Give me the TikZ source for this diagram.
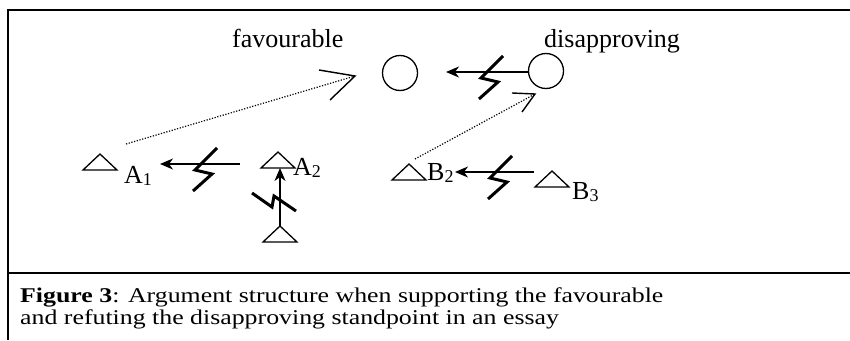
\documentclass[tikz,border=0pt]{standalone}
\usepackage{fontspec}
\setmainfont{Liberation Serif}
\newfontfamily\capfont[FakeStretch=1.23]{Liberation Serif}
\usetikzlibrary{arrows.meta,calc}
\newcommand{\trinode}[2]{%
  \coordinate (#1) at #2;
  \coordinate (#1-top) at ($(#1)+(0,-16)$);
  \draw[shapeline] ($(#1)+(-17,0)$) -- (#1-top) -- ($(#1)+(17,0)$) -- cycle;}
\begin{document}
\begin{tikzpicture}[x=1pt,y=-1pt,
  shapeline/.style={line width=1.3pt, line join=miter},
  frame/.style={line width=2pt},
  attack/.style={line width=1.3pt, -{Stealth[length=13pt,width=11pt,inset=4pt]}},
  bolt/.style={line width=3pt, line join=miter},
  support/.style={line width=1.2pt, dash pattern=on 1.2pt off 1.6pt},
  vhead/.style={line width=1.4pt},
  stand/.style={circle, draw, line width=1.3pt, minimum size=35pt, inner sep=0pt},
  lbl/.style={anchor=base west, inner sep=0pt, font=\fontsize{26}{30}\selectfont},
  captext/.style={anchor=base west, inner sep=0pt, font=\capfont\fontsize{21}{24}\selectfont}]
\useasboundingbox (0,0) rectangle (850,340);
% frame
\draw[frame] (850,10) -- (8,10) -- (8,340);
\draw[frame] (8,273) -- (850,273);
% standpoints
\node[stand] (fav) at (400,73) {};
\node[stand] (dis) at (546,71) {};
\node[lbl] (favt) at (232,47) {favourable};
\node[lbl] (dist) at (544,47) {disapproving};
% triangles
\trinode{a1}{(100,170)}
\trinode{a2}{(278,168)}
\trinode{a3}{(280,242)}
\trinode{b2}{(409,180)}
\trinode{b3}{(552,187)}
% labels
\node[lbl] (a1l) at (124,183) {A\raisebox{-2pt}{\fontsize{18}{18}\selectfont 1}};
\node[lbl] (a2l) at (293,175) {A\raisebox{-2pt}{\fontsize{18}{18}\selectfont 2}};
\node[lbl] (b2l) at (427,180) {B\raisebox{-2pt}{\fontsize{18}{18}\selectfont 2}};
\node[lbl] (b3l) at (572,199) {B\raisebox{-2pt}{\fontsize{18}{18}\selectfont 3}};
% free ends
\coordinate (t1) at (446,72);
\coordinate (s2) at (240,164);
\coordinate (t2) at (160,164);
\coordinate (s3) at (534,172);
\coordinate (t3) at (455,172);
\coordinate (d1s) at (126,144);
\coordinate (d1e) at (355,76);
\coordinate (d2s) at (415,159);
\coordinate (d2e) at (535,94);
% attack arrows
\draw[attack] (dis.west |- t1) -- (t1);
\draw[attack] (s2) -- (t2);
\draw[attack] (s3) -- (t3);
\draw[attack] (a3-top) -- (a3-top |- a2);
% bolts
\coordinate (k1) at (490,72);
\coordinate (k2) at (204,164);
\coordinate (k3) at (499,172);
\foreach \k in {k1,k2,k3}
  \draw[bolt] ($(\k)+(13,-16)$) -- ($(\k)+(-9,6)$) -- ($(\k)+(8,10)$) -- ($(\k)+(-11,27)$);
\coordinate (k4) at (279,200);
\draw[bolt] ($(k4)+(-27,-7)$) -- ($(k4)+(-7,7)$) -- ($(k4)+(-5,-4)$) -- ($(k4)+(17,11)$);
% support lines
\draw[support] (d1s) -- (d1e);
\draw[vhead] ($(d1e)+(-36,-6)$) -- (d1e) -- ($(d1e)+(-25,24)$);
\draw[support] (d2s) -- (d2e);
\draw[vhead] ($(d2e)+(-23,-1)$) -- (d2e) -- ($(d2e)+(-13,18)$);
% caption
\node[captext] (c1) at (20,302) {\textbf{Figure 3}: Argument structure when supporting the favourable};
\node[captext] (c2) at (20,324) {and refuting the disapproving standpoint in an essay};
\end{tikzpicture}
\end{document}
